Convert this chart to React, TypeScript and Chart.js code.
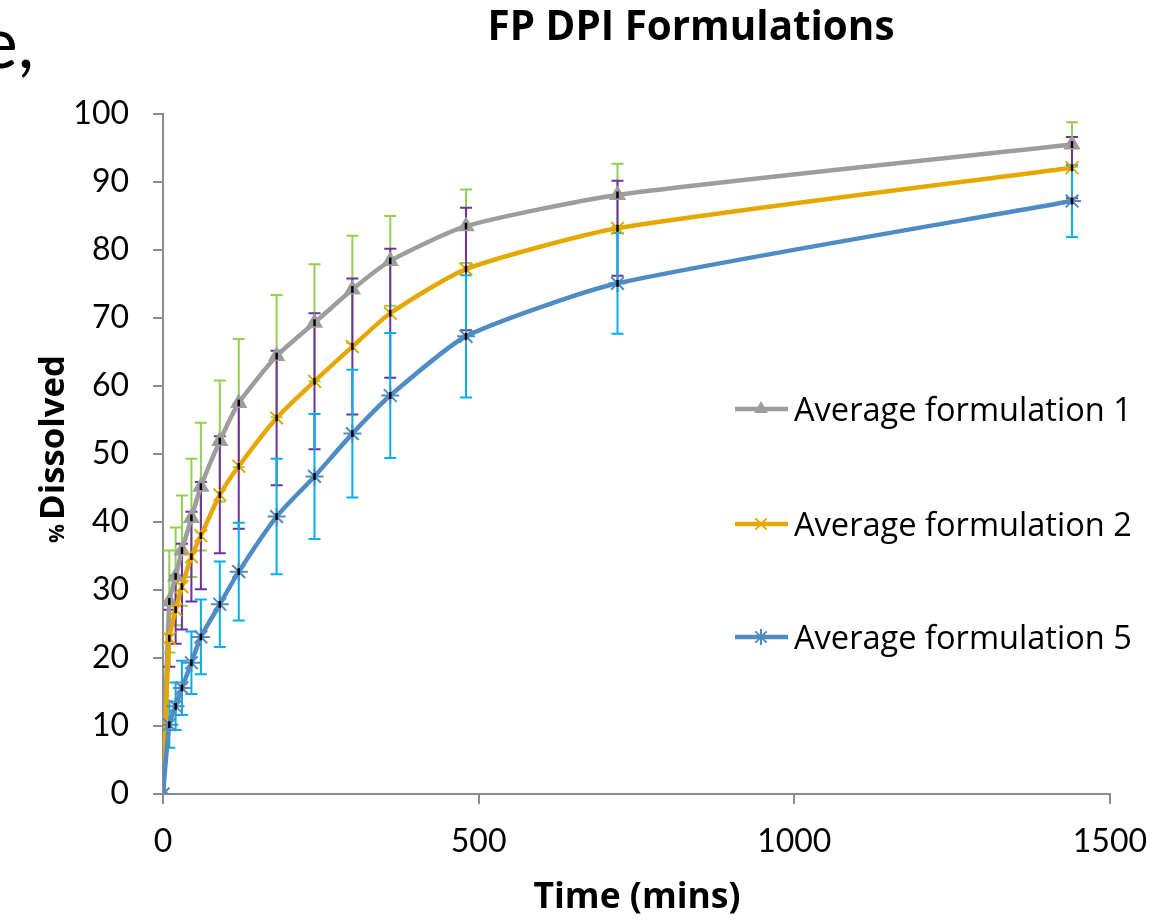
import React, { useEffect, useRef } from "react";
import { Chart, registerables } from "chart.js";
import { drawPoint } from "chart.js/helpers";

Chart.register(...registerables);

// ---- data ----
const TIME = [0, 10, 20, 30, 45, 60, 90, 120, 180, 240, 300, 360, 480, 720, 1440];
const F1 = [0, 28.3, 32.0, 35.8, 40.6, 45.2, 51.9, 57.5, 64.4, 69.3, 74.2, 78.4, 83.5, 88.1, 95.5];
const F1_ERR = [0, 7.5, 7.2, 8.1, 8.7, 9.4, 8.9, 9.4, 9.0, 8.6, 7.9, 6.6, 5.4, 4.6, 3.3];
const F2 = [0, 22.9, 27.1, 30.5, 34.9, 38.0, 44.0, 48.2, 55.3, 60.7, 65.8, 70.7, 77.2, 83.2, 92.1];
const F2_ERR = [0, 4.2, 5.0, 6.3, 6.6, 7.9, 8.6, 9.2, 9.9, 10.0, 10.0, 9.5, 9.0, 7.0, 4.5];
const F5 = [0, 10.2, 12.9, 15.6, 19.3, 23.1, 27.9, 32.7, 40.8, 46.7, 53.0, 58.6, 67.3, 75.1, 87.2];
const F5_ERR = [0, 3.4, 3.5, 4.0, 4.6, 5.5, 6.3, 7.2, 8.5, 9.2, 9.4, 9.2, 9.0, 7.4, 5.3];
const SMALL_ERR = 0.5;

const SERIES_LABELS = ["Average formulation 1", "Average formulation 2", "Average formulation 5"];
const X_TICKS = [0, 500, 1000, 1500];
const Y_TICKS = [0, 10, 20, 30, 40, 50, 60, 70, 80, 90, 100];

const TITLE = "FP DPI Formulations";
const X_TITLE = "Time (mins)";
const Y_TITLE_PCT = "%";
const Y_TITLE_MAIN = "Dissolved";
const CORNER_TEXT = "e,";

// ---- styles ----
const LINE_COLORS = ["#9d9d9d", "#e5a800", "#4f8cc4"];
const ERR_COLORS = ["#92d050", "#7030a0", "#00b0f0"];
const POINT_STYLES = ["triangle", "crossRot", "star"];
const AXIS_COLOR = "#8c8c8c";
const TICK_FONT = "Lato, 'Open Sans', sans-serif";
const TEXT_FONT = "'Open Sans', Lato, sans-serif";

const ERRS = [F1_ERR, F2_ERR, F5_ERR];
const VALS = [F1, F2, F5];

function fitFont(ctx: CanvasRenderingContext2D, text: string, weight: string, family: string, target: number) {
  ctx.font = `${weight} 100px ${family}`;
  const w = ctx.measureText(text).width;
  const size = (100 * target) / w;
  return `${weight} ${size.toFixed(2)}px ${family}`;
}

const customPlugin = {
  id: "custom",
  beforeDatasetsDraw(chart: any) {
    const ctx = chart.ctx;
    const xs = chart.scales.x;
    const ys = chart.scales.y;
    ctx.save();
    ctx.lineWidth = 2;
    for (let s = 0; s < 3; s++) {
      ctx.strokeStyle = ERR_COLORS[s];
      const vals = VALS[s];
      const errs = ERRS[s];
      for (let i = 0; i < TIME.length; i++) {
        const e = errs[i];
        if (!e) continue;
        const x = xs.getPixelForValue(TIME[i]);
        const yt = ys.getPixelForValue(vals[i] + e);
        const yb = ys.getPixelForValue(vals[i] - e);
        ctx.beginPath();
        ctx.moveTo(x, yt);
        ctx.lineTo(x, yb);
        ctx.moveTo(x - 6, yt);
        ctx.lineTo(x + 6, yt);
        ctx.moveTo(x - 6, yb);
        ctx.lineTo(x + 6, yb);
        ctx.stroke();
      }
    }
    ctx.restore();
  },
  afterDatasetsDraw(chart: any) {
    const ctx = chart.ctx;
    const xs = chart.scales.x;
    const ys = chart.scales.y;
    ctx.save();
    ctx.strokeStyle = "#000";
    ctx.lineWidth = 2.5;
    for (let s = 0; s < 3; s++) {
      const vals = VALS[s];
      for (let i = 1; i < TIME.length; i++) {
        const x = xs.getPixelForValue(TIME[i]);
        ctx.beginPath();
        ctx.moveTo(x, ys.getPixelForValue(vals[i] + SMALL_ERR));
        ctx.lineTo(x, ys.getPixelForValue(vals[i] - SMALL_ERR));
        ctx.stroke();
      }
    }
    ctx.restore();
  },
  afterDraw(chart: any) {
    const ctx = chart.ctx as CanvasRenderingContext2D;
    ctx.save();
    // legend
    const legendY = [409, 524, 637];
    for (let s = 0; s < 3; s++) {
      const y = legendY[s];
      ctx.strokeStyle = LINE_COLORS[s];
      ctx.lineWidth = 4.5;
      ctx.beginPath();
      ctx.moveTo(735, y);
      ctx.lineTo(788, y);
      ctx.stroke();
      ctx.fillStyle = LINE_COLORS[s];
      ctx.strokeStyle = LINE_COLORS[s];
      ctx.lineWidth = 2;
      drawPoint(ctx, { pointStyle: POINT_STYLES[s], radius: s === 0 ? 6 : 8, borderWidth: 2, rotation: 0 } as any, 761, y);
      ctx.fillStyle = "#000";
      ctx.font = fitFont(ctx, SERIES_LABELS[s], "normal", TEXT_FONT, 338);
      ctx.textAlign = "left";
      ctx.textBaseline = "alphabetic";
      ctx.fillText(SERIES_LABELS[s], 794, y + 12);
    }
    // chart title
    ctx.fillStyle = "#000";
    ctx.font = fitFont(ctx, TITLE, "bold", TEXT_FONT, 407);
    ctx.textAlign = "center";
    ctx.textBaseline = "alphabetic";
    ctx.fillText(TITLE, 691, 40);
    // x title
    ctx.font = fitFont(ctx, X_TITLE, "bold", TEXT_FONT, 207);
    ctx.fillText(X_TITLE, 637, 908);
    // y title (rotated)
    ctx.save();
    ctx.translate(64, 543);
    ctx.rotate(-Math.PI / 2);
    ctx.textAlign = "left";
    ctx.textBaseline = "alphabetic";
    ctx.font = `bold 21px ${TEXT_FONT}`;
    ctx.fillText(Y_TITLE_PCT, 0, 0);
    ctx.font = fitFont(ctx, Y_TITLE_MAIN, "bold", TEXT_FONT, 165);
    ctx.textAlign = "right";
    ctx.fillText(Y_TITLE_MAIN, 188, 0);
    ctx.restore();
    // corner text
    ctx.font = `72px ${TICK_FONT}`;
    ctx.textAlign = "right";
    ctx.textBaseline = "alphabetic";
    ctx.fillText(CORNER_TEXT, 34, 68);
    ctx.restore();
  },
};

export default function App() {
  const ref = useRef<HTMLCanvasElement | null>(null);
  useEffect(() => {
    if (!ref.current) return;
    const mk = (vals: number[]) => TIME.map((t, i) => ({ x: t, y: vals[i] }));
    const chart = new Chart(ref.current, {
      type: "line",
      data: {
        datasets: [0, 1, 2].map((s) => ({
          label: SERIES_LABELS[s],
          data: mk(VALS[s]),
          borderColor: LINE_COLORS[s],
          backgroundColor: LINE_COLORS[s],
          pointBackgroundColor: LINE_COLORS[s],
          pointBorderColor: LINE_COLORS[s],
          pointStyle: POINT_STYLES[s] as any,
          pointRadius: s === 0 ? 8 : 9,
          pointBorderWidth: 2,
          borderWidth: 4.5,
          tension: 0.2,
          fill: false,
          order: 2 - s,
        })),
      },
      options: {
        animation: false,
        responsive: false,
        devicePixelRatio: 1,
        layout: { padding: { left: 0, right: 55, top: 114, bottom: 0 } },
        plugins: {
          legend: { display: false },
          title: { display: false },
          tooltip: { enabled: false },
        },
        scales: {
          x: {
            type: "linear",
            min: 0,
            max: 1500,
            afterBuildTicks: (scale: any) => {
              scale.ticks = X_TICKS.map((v) => ({ value: v }));
            },
            afterFit: (scale: any) => {
              scale.height = 129;
            },
            ticks: {
              color: "#000",
              font: { family: TICK_FONT, size: 32 },
              padding: 18,
              maxRotation: 0,
              callback: (v: any) => String(v),
            },
            grid: {
              display: true,
              drawOnChartArea: false,
              drawTicks: true,
              tickLength: 10,
              color: AXIS_COLOR,
              lineWidth: 2,
            },
            border: { display: true, color: AXIS_COLOR, width: 2 },
          },
          y: {
            type: "linear",
            min: 0,
            max: 100,
            afterBuildTicks: (scale: any) => {
              scale.ticks = Y_TICKS.map((v) => ({ value: v }));
            },
            afterFit: (scale: any) => {
              scale.width = 163;
            },
            ticks: {
              color: "#000",
              font: { family: TICK_FONT, size: 32 },
              padding: 24,
              callback: (v: any) => String(v),
            },
            grid: {
              display: true,
              drawOnChartArea: false,
              drawTicks: true,
              tickLength: 10,
              color: AXIS_COLOR,
              lineWidth: 2,
            },
            border: { display: true, color: AXIS_COLOR, width: 2 },
          },
        },
      },
      plugins: [customPlugin],
    });
    return () => chart.destroy();
  }, []);
  return (
    <div style={{ position: "absolute", left: 0, top: 0, width: 1165, height: 923, background: "#fff" }}>
      <canvas ref={ref} width={1165} height={923} style={{ display: "block" }} />
    </div>
  );
}
